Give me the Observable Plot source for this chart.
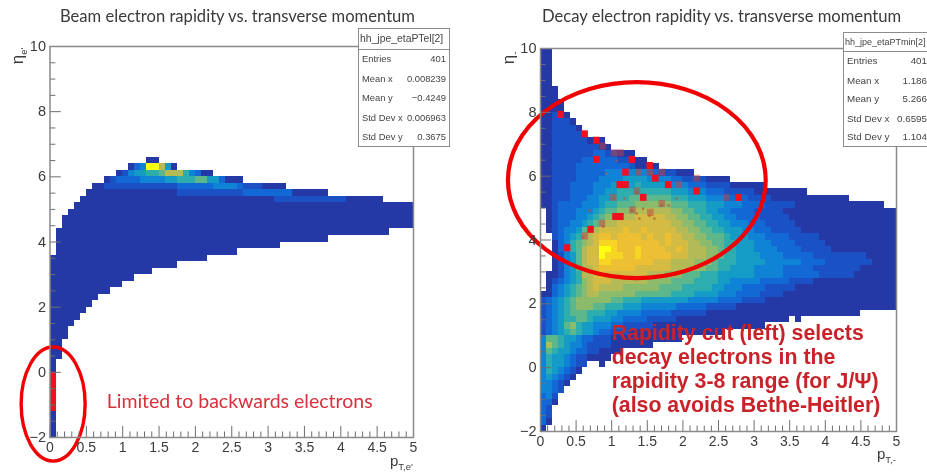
<!DOCTYPE html>
<html><head><meta charset="utf-8">
<script src="https://cdn.jsdelivr.net/npm/d3@7"></script>
<script src="https://cdn.jsdelivr.net/npm/@observablehq/plot@0.6"></script>
<style>
html,body{margin:0;padding:0;background:#fff}
#page{position:relative;width:927px;height:473px;overflow:hidden;font-family:"Liberation Sans",sans-serif;color:#333;filter:blur(0.4px)}
#page svg{position:absolute;overflow:visible}
.title{position:absolute;font-family:Lato,sans-serif;font-size:16.6px;color:#3a3a3a;white-space:nowrap;line-height:20px}
.stats{position:absolute;background:#fff;border:1px solid #8c8c8c;box-sizing:border-box;color:#444}
.stats .head{position:absolute;left:0;right:0;top:0;border-bottom:1px solid #8c8c8c;white-space:nowrap;padding-left:1px}
.stats .row{position:absolute;left:3px;display:flex;justify-content:space-between;white-space:nowrap;line-height:12px}
.lab{position:absolute;white-space:nowrap;font-size:15px;color:#3a3a3a;line-height:16px}
.lab sub{font-size:9.5px;vertical-align:-4px;line-height:0}
</style></head><body><div id="page"></div>
<script>
// Colour levels of the ROOT palette, low to high
const palette = ["#2438a6","#1a52c6","#1269d6","#0f84d6","#149bc6","#2dadad","#5cb78c","#8cbb6c","#b4ba56","#d4bb44","#ecc032","#f7d523","#ffff12"];
const levels = palette.map((_, i) => i);
const levelChars = "0123456789abc";
const xBins = 60, yBins = 60, xMax = 5, yMin = -2, yMax = 10;
const xTicks = [0,0.5,1,1.5,2,2.5,3,3.5,4,4.5,5];
const xMinor = [0.1,0.2,0.3,0.4,0.6,0.7,0.8,0.9,1.1,1.2,1.3,1.4,1.6,1.7,1.8,1.9,2.1,2.2,2.3,2.4,2.6,2.7,2.8,2.9,3.1,3.2,3.3,3.4,3.6,3.7,3.8,3.9,4.1,4.2,4.3,4.4,4.6,4.7,4.8,4.9];
const yTicks = [-2,0,2,4,6,8,10];
const yMinor = [-1.5,-1,-0.5,0.5,1,1.5,2.5,3,3.5,4.5,5,5.5,6.5,7,7.5,8.5,9,9.5];

// Left histogram: highest and lowest eta edge of each pT column
const beamTop = [3.6,4.4,4.8,5.0,5.2,5.4,5.6,5.8,5.8,6.0,6.0,6.2,6.2,6.4,6.4,6.4,6.6,6.6,6.4,6.4,6.4,6.2,6.2,6.2,6.2,6.2,6.2,6.0,6.0,6.0,6.0,6.0,5.8,5.8,5.8,5.8,5.8,5.8,5.8,5.6,5.6,5.6,5.6,5.6,5.6,5.6,5.4,5.4,5.4,5.4,5.4,5.4,5.4,5.4,5.4,5.2,5.2,5.2,5.2,5.2];
const beamBottom = [-2,0.4,1.0,1.4,1.6,1.8,2.0,2.2,2.4,2.4,2.6,2.6,2.8,2.8,3.0,3.0,3.0,3.2,3.2,3.2,3.2,3.4,3.4,3.4,3.4,3.4,3.6,3.6,3.6,3.6,3.6,3.8,3.8,3.8,3.8,3.8,3.8,3.8,4.0,4.0,4.0,4.0,4.0,4.0,4.0,4.0,4.2,4.2,4.2,4.2,4.2,4.2,4.2,4.2,4.2,4.2,4.4,4.4,4.4,4.4];
// Left histogram: rows above level 0, keyed by first row index
const beamHotFirstRow = 18;
const beamHotRows = [
"0000000000 000023cc84 0",
"0000000000 0013445568 8853200",
"0000000000 1222233334 4555664420 00",
"0000000001 1111111111 1222222333 3211100000",
"0000000000 0000000000 0111111111 1122222222 00000",
"0000000000 0000000000 0000000000 0000000111 1111111110"
];
// Right histogram: one string per eta row (top to bottom), one character per pT bin
const decayRows = [
"00","00","00","00","00","00","000","000","0000","0000","00110","001110","0011110","00111110",
"00111111000","001111111100","0011111112 211000","0011111222 22211000","0011112222 2222210000",
"0011112222 2333333322 111000",
"0011112222 3333444433 3322111100 00",
"0011122223 3344445444 4433322211 11000000",
"0011122223 3445555555 5544433322 2111110000 00000",
"0011122233 4455566666 6655544433 3222211110 0000000000 00",
"0012222333 4556667777 7766655544 4333222211 1110000000 00000000",
".012223334 5667778888 8877665544 3322221111 1000000000 0000000000",
".012223345 6778889999 9887766554 4332222111 1100000000 0000000000",
".012233456 7889999999 9988776655 4433322211 1110000000 0000000000",
".012334678 9999a99a99 9998877665 5444332221 1111000000 0000000000",
"..12345789 aa9aaaa9a9 9a99887766 6544433322 2211111000 0000000000",
"..02356789 bbbaaaaaaa 9a99988776 6554443332 2221111100 0000000000",
"..02356899 ccbaaabaaa a99a988877 6554443333 2222111110 0000000000",
"..01346899 cbbbaabaaa aa99988877 6554444333 3222221111 1111100000",
"..01346899 bbaaaaaaa9 9988887776 5554444433 3333222211 1111110000",
"..01346889 aaaaaa9999 9988887766 5544443333 3222221111 1111000000",
".001345889 a999999988 8777666555 4444443333 3222222111 1110000000",
".012345789 9988888877 7766665555 4433333222 2211110000 0000000000",
".023456789 8888777777 6666555554 4333222211 1110000000 0000000000",
"0023456788 7777776666 6655554444 3332222111 1000000000 0000000000",
"1234567777 7766555444 4444433333 2222111100 0000000000 0000000000",
"1234567776 6555444333 3332222211 1110000000 0000000000 0000000000",
"1234566655 5443333222 2211111100 0000000000 0000000000 0000",
"1234556654 4433222211 1110000000 0000000000 00.0",
"1234675443 3322111110 0000000000 00000000",
"1234565443 2211100000 0000000000 0",
"3665443221 1100000000 0000",
"3865433211 110000000",
"3654432211 0000",
"3544321100 00",
"35443211..0",
"3543210","343210","33210","3321","231","220","21","21","20","0"
];
// Red overlay histogram on the right: pT, eta of bright and faint bins
const redPt = [0.285,0.627,0.79,0.79,1.29,1.54,1.2,1.62,1.8,1.2,1.12,2.2,1.45,2.79,1.06,1.13,0.71,0.38];
const redEta = [7.92,7.31,7.11,6.51,6.51,6.32,6.11,5.92,5.72,5.72,5.72,5.52,5.32,5.32,4.72,4.72,4.32,3.74];
const faintPt = [0.88,1.04,1.13,1.54,1.71,2.2,1.03,1.36,0.87,0.63,1.3,1.71,1.55,2.62,1.95,1.38];
const faintEta = [6.93,6.72,6.72,6.11,6.11,5.92,5.32,5.52,4.51,4.11,4.93,5.13,4.85,5.32,5.72,6.11];
const speckPt = [1.28,1.35,1.44,1.53,1.60,1.70,1.80,1.03,0.88,0.60,0.93,0.69,1.35,1.18,1.91,1.56,1.38,1.07,1.39];
const speckEta = [4.92,4.83,4.98,4.76,4.67,5.08,5.08,5.30,4.42,4.08,6.08,4.92,5.49,5.30,5.30,6.08,6.11,6.49,4.67];
// Annotations
const beamNote = "Limited to backwards electrons";
const decayNote = "Rapidity cut (left) selects\ndecay electrons in the\nrapidity 3-8 range (for J/Ψ)\n(also avoids Bethe-Heitler)";
const beamStatsName = "hh_jpe_etaPTel[2]";
const decayStatsName = "hh_jpe_etaPTmin[2]";
const statNames = ["Entries","Mean x","Mean y","Std Dev x","Std Dev y"];
const beamStats = ["401","0.008239","−0.4249","0.006963","0.3675"];
const decayStats = ["401","1.186","5.266","0.6595","1.104"];

const dx = xMax / xBins, dy = (yMax - yMin) / yBins;
const clean = s => s.replace(/ /g, "");
const cellsFrom = (rows, firstRow = 0) => rows.flatMap((row, r) => Array.from(clean(row)).flatMap((ch, c) =>
  ch === "." || c >= xBins ? [] : [{x1: c*dx, x2: (c+1)*dx, y1: yMax-(r+firstRow)*dy, y2: yMax-(r+firstRow+1)*dy, level: levelChars.indexOf(ch)}]));

const beamCells = beamTop.flatMap((top, c) => {
  const out = [], n = Math.round((top - beamBottom[c]) / dy), r0 = Math.round((yMax - top) / dy);
  for (let i = 0; i < n; i++) out.push({x1: c*dx, x2: (c+1)*dx, y1: yMax-(r0+i)*dy, y2: yMax-(r0+i+1)*dy, level: 0});
  return out;
});
const beamHot = cellsFrom(beamHotRows, beamHotFirstRow).filter(d => d.level > 0);
const decayCells = cellsFrom(decayRows);

const ellipseMark = (cx, cy, rx, ry, w) => (index, {x, y}) => {
  const e = document.createElementNS("http://www.w3.org/2000/svg", "ellipse");
  e.setAttribute("cx", x(cx)); e.setAttribute("cy", y(cy));
  e.setAttribute("rx", Math.abs(x(cx+rx)-x(cx))); e.setAttribute("ry", Math.abs(y(cy+ry)-y(cy)));
  e.setAttribute("fill", "none"); e.setAttribute("stroke", "#f00000"); e.setAttribute("stroke-width", w);
  return e;
};
const axisColor = "#6e6e6e";
function chart({left, width, mL, mR, mT, mB, layers}) {
  const p = Plot.plot({
    width, height: 473, marginLeft: mL, marginRight: mR, marginTop: mT, marginBottom: mB,
    x: {domain: [0, xMax], axis: null}, y: {domain: [yMin, yMax], axis: null},
    color: {type: "ordinal", domain: levels, range: palette},
    style: {fontFamily: "Liberation Sans", background: "transparent", overflow: "visible"},
    marks: [
      ...layers,
      Plot.ruleY(yTicks, {x1: 0, x2: 0.155, stroke: axisColor, strokeWidth: 1}),
      Plot.ruleY(yMinor, {x1: 0, x2: 0.08, stroke: axisColor, strokeWidth: 1}),
      Plot.ruleX(xTicks, {y1: yMin, y2: yMin + 0.34, stroke: axisColor, strokeWidth: 1}),
      Plot.ruleX(xMinor, {y1: yMin, y2: yMin + 0.17, stroke: axisColor, strokeWidth: 1}),
      Plot.frame({stroke: "#8a8a8a", strokeWidth: 1.5}),
      Plot.axisX({ticks: xTicks, tickSize: 0, tickPadding: 5, fontSize: 14, fill: "#3c3c3c", tickFormat: d => String(d)}),
      Plot.axisY({ticks: yTicks, tickSize: 0, tickPadding: 4, fontSize: 14.5, fill: "#3c3c3c", tickFormat: d => d < 0 ? "−" + (-d) : String(d)})
    ]
  });
  p.style.left = left + "px"; p.style.top = "0px";
  document.getElementById("page").appendChild(p);
}
const cellOpts = {x1: "x1", x2: "x2", y1: "y1", y2: "y2", fill: "level", shapeRendering: "crispEdges"};
chart({left: 0, width: 480, mL: 49.5, mR: 67, mT: 46, mB: 36, layers: [
  Plot.rect(beamCells, cellOpts),
  Plot.rect(beamHot, cellOpts),
  Plot.rect([{x1: 0.01, x2: 0.09, y1: -1.2, y2: 0}], {x1: "x1", x2: "x2", y1: "y1", y2: "y2", fill: "#f01020"}),
  ellipseMark(0.05, -0.99, 0.44, 1.75, 3.4),
  Plot.text([beamNote], {x: 0.78, y: -0.89, text: d => d, textAnchor: "start", fontFamily: "Lato", fontSize: 19.5, fill: "#d9303c"})
]});
const redCell = (xs, ys) => xs.map((x, i) => ({x1: x-dx/2-0.004, x2: x+dx/2+0.004, y1: ys[i]-dy/2-0.01, y2: ys[i]+dy/2+0.01}));
const speckles = speckPt.map((x, i) => ({x, y: speckEta[i]}));
chart({left: 480, width: 447, mL: 60, mR: 31, mT: 48, mB: 42, layers: [
  Plot.rect(decayCells, cellOpts),
  Plot.dot(speckles, {x: "x", y: "y", r: 1.3, fill: "#b0583c", fillOpacity: 0.75}),
  Plot.rect(redCell(faintPt, faintEta), {x1: "x1", x2: "x2", y1: "y1", y2: "y2", fill: "#c8403c", fillOpacity: 0.5}),
  Plot.rect(redCell(redPt, redEta), {x1: "x1", x2: "x2", y1: "y1", y2: "y2", fill: "#f01020"}),
  ellipseMark(1.36, 5.86, 1.81, 3.07, 4.2),
  Plot.text([decayNote], {x: 1.0, y: -0.03, text: d => d, textAnchor: "start", lineAnchor: "middle", lineHeight: 1.13, fontFamily: "Liberation Sans", fontWeight: "bold", fontSize: 21.3, fill: "#c9232a"})
]});

const page = document.getElementById("page");
function html(cls, css, inner) { const d = document.createElement("div"); d.className = cls; d.style.cssText = css; d.innerHTML = inner; page.appendChild(d); return d; }
html("title", "left:60px;top:6px", "Beam electron rapidity vs. transverse momentum");
html("title", "left:542px;top:6px", "Decay electron rapidity vs. transverse momentum");
html("lab", "left:10px;top:48px;transform:rotate(-90deg);transform-origin:center;font-size:17px", "η<sub>e'</sub>");
html("lab", "left:503px;top:50px;transform:rotate(-90deg);transform-origin:center;font-size:17px", "η<sub>-</sub>");
html("lab", "left:390px;top:453px", "p<sub>T,e'</sub>");
html("lab", "left:877px;top:446px", "p<sub>T,-</sub>");
function stats(name, vals, css, rowTops, headH, bodyFont, headFont, rowW) {
  const b = html("stats", css, "");
  const head = document.createElement("div"); head.className = "head"; head.textContent = name;
  head.style.height = headH + "px"; head.style.lineHeight = headH + "px"; head.style.fontSize = headFont + "px"; b.appendChild(head);
  statNames.forEach((n, i) => {
    const r = document.createElement("div"); r.className = "row"; r.style.top = rowTops[i] + "px"; r.style.width = rowW + "px"; r.style.fontSize = bodyFont + "px";
    r.innerHTML = `<span>${n}</span><span>${vals[i]}</span>`; b.appendChild(r);
  });
}
stats(beamStatsName, beamStats, "left:358px;top:28px;width:92px;height:119px", [24,44,63,83,102], 20, 9.4, 10.4, 84);
stats(decayStatsName, decayStats, "left:843px;top:32px;width:84px;height:115px;border-right:none", [22,42,60,80,98], 18, 9.8, 9.0, 80);
</script></body></html>
